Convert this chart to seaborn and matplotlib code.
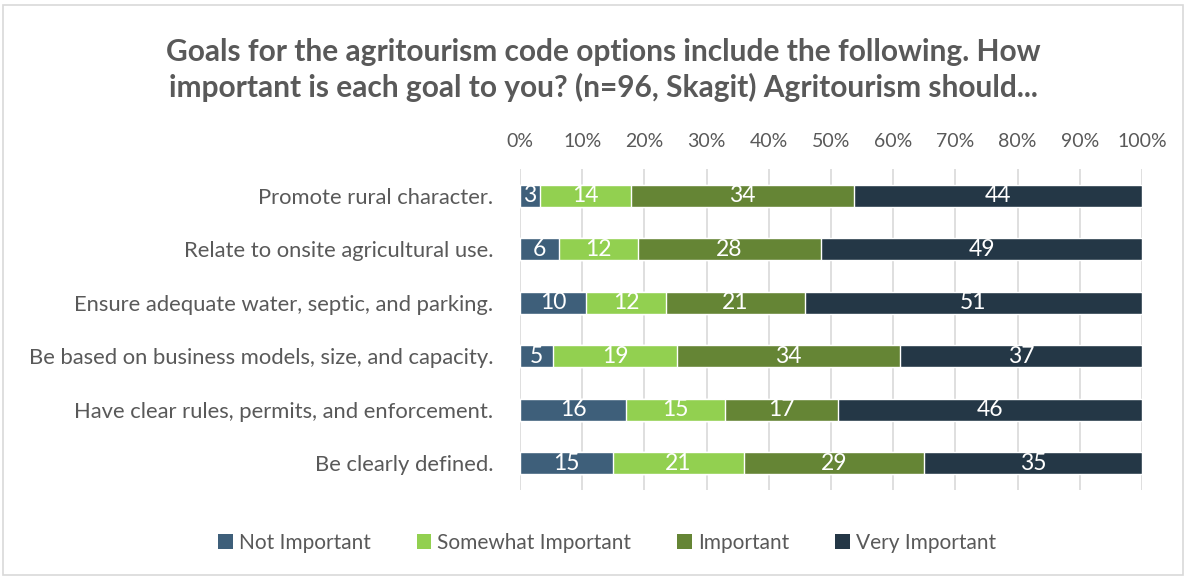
import matplotlib
matplotlib.use("Agg")
import matplotlib.pyplot as plt
import seaborn as sns
import pandas as pd
import numpy as np
from matplotlib.patches import Rectangle, Patch

categories = [
    "Promote rural character.",
    "Relate to onsite agricultural use.",
    "Ensure adequate water, septic, and parking.",
    "Be based on business models, size, and capacity.",
    "Have clear rules, permits, and enforcement.",
    "Be clearly defined.",
]
series_names = ["Not Important", "Somewhat Important", "Important", "Very Important"]
not_important = [3, 6, 10, 5, 16, 15]
somewhat_important = [14, 12, 12, 19, 15, 21]
important = [34, 28, 21, 34, 17, 29]
very_important = [44, 49, 51, 37, 46, 35]
tick_labels = ["0%", "10%", "20%", "30%", "40%", "50%", "60%", "70%", "80%", "90%", "100%"]

colors = ["#3E5F7A", "#92D050", "#658535", "#243746"]
text_grey = "#595959"

sns.set_theme(style="white")
plt.rcParams["font.family"] = ["Lato", "DejaVu Sans"]

counts = np.array([not_important, somewhat_important, important, very_important], dtype=float)
totals = counts.sum(axis=0)
pcts = counts / totals * 100
cum = np.cumsum(pcts, axis=0)

fig = plt.figure(figsize=(11.88, 5.79), dpi=100)
ax = fig.add_axes([520/1188, 1-490/579, (1142-520)/1188, (490-169)/579])

# vertical gridlines
for v in range(0, 101, 10):
    ax.axvline(v, color="#D9D9D9", lw=1.2, zorder=0)

# draw stacked bars as overlays (largest cumulative first)
for i in range(3, -1, -1):
    df = pd.DataFrame({"cat": categories, "val": cum[i]})
    sns.barplot(data=df, x="val", y="cat", orient="h", color=colors[i],
                width=0.41, saturation=1, ax=ax, zorder=2, errorbar=None)

# labels
for i in range(4):
    lefts = cum[i] - pcts[i]
    for j, cat in enumerate(categories):
        ax.text(lefts[j] + pcts[i][j] / 2, j, f"{int(counts[i][j])}",
                ha="center", va="center", color="white", fontsize=16.5, zorder=3)

ax.set_xlim(0, 100)
ax.set_ylim(5.5, -0.5)
ax.set_xticks(range(0, 101, 10))
ax.set_xticklabels(tick_labels)
ax.xaxis.tick_top()
ax.tick_params(axis="x", colors=text_grey, labelsize=14, length=0, pad=14)
ax.tick_params(axis="y", colors=text_grey, labelsize=15.8, length=0, pad=19)
ax.set_xlabel("")
ax.set_ylabel("")
for s in ax.spines.values():
    s.set_visible(False)

fig.text(0.508, 1-70/579,
         "Goals for the agritourism code options include the following. How\nimportant is each goal to you? (n=96, Skagit) Agritourism should...",
         ha="center", va="center", fontsize=21.5, fontweight="bold", color=text_grey,
         linespacing=1.3)

handles = [Patch(facecolor=c, edgecolor="none") for c in colors]
fig.legend(handles, series_names, loc="center", bbox_to_anchor=(0.511, 1-543/579),
           ncol=4, frameon=False, fontsize=15, labelcolor=text_grey,
           handlelength=0.7, handleheight=0.7, handletextpad=0.3, columnspacing=2.2)

fig.patches.append(Rectangle((3/1188, 4/579), 1180/1188, 570/579, transform=fig.transFigure,
                             fill=False, edgecolor="#D9D9D9", lw=1.2))

fig.savefig("out.png", dpi=100)
